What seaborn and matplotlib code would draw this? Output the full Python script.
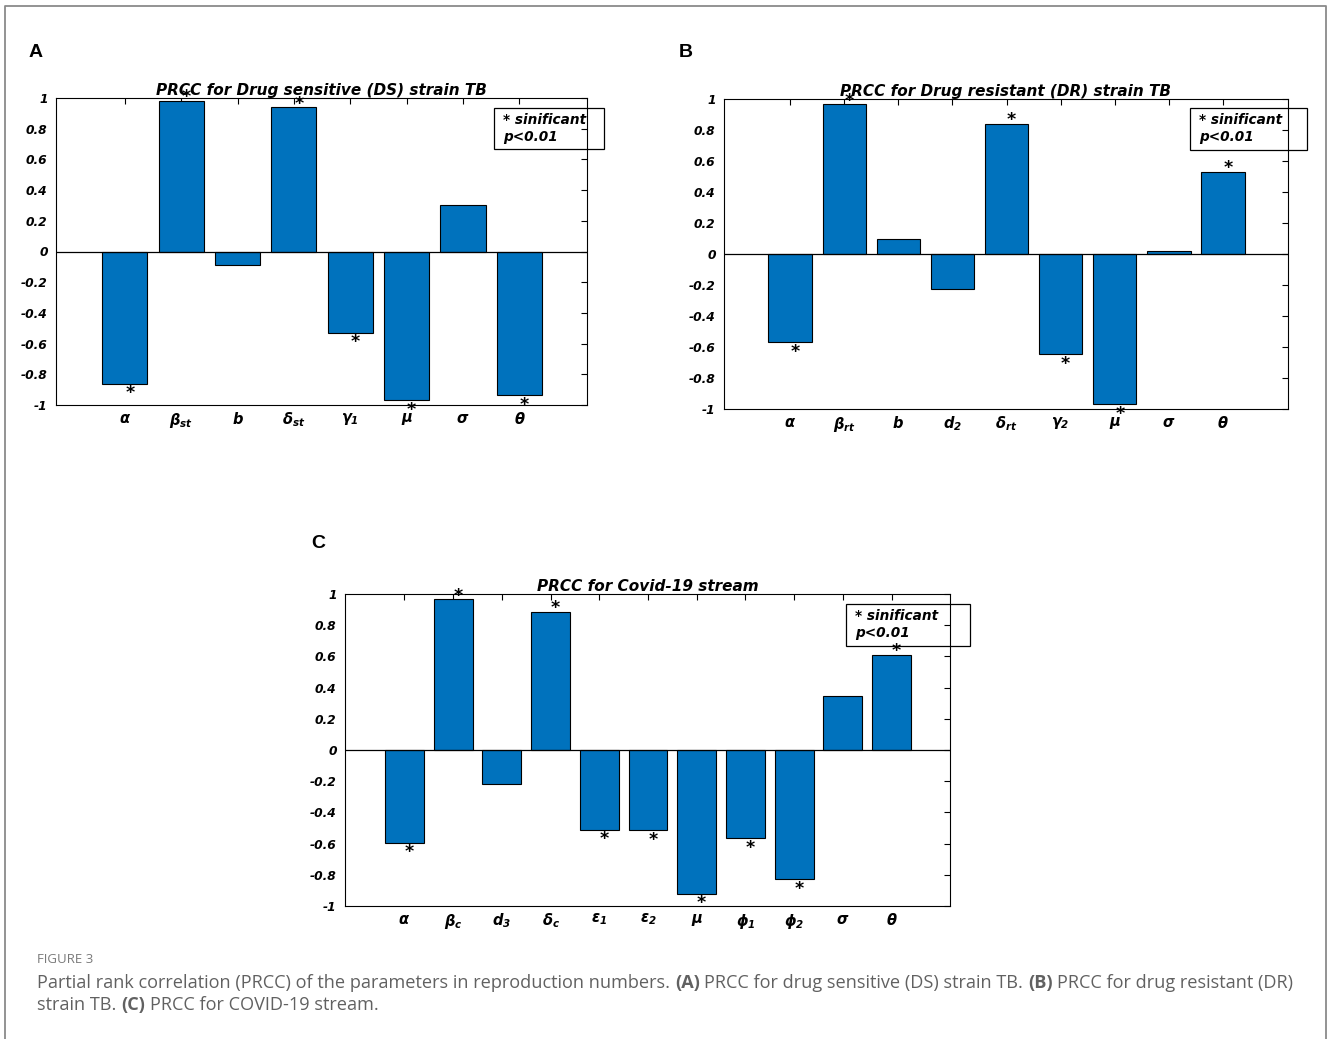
import matplotlib
matplotlib.use("Agg")
import matplotlib.pyplot as plt
from matplotlib.patches import Rectangle
from matplotlib.lines import Line2D
from matplotlib.ticker import FixedLocator, FuncFormatter
import seaborn as sns

# ---------------- data ----------------
ds_params = [r"$\alpha$", r"$\beta_{st}$", r"$b$", r"$\delta_{st}$", r"$\gamma_1$",
             r"$\mu$", r"$\sigma$", r"$\theta$"]
ds_prcc = [-0.86, 0.98, -0.09, 0.94, -0.53, -0.97, 0.30, -0.935]
ds_sig = [True, True, False, True, True, True, False, True]

dr_params = [r"$\alpha$", r"$\beta_{rt}$", r"$b$", r"$d_2$", r"$\delta_{rt}$", r"$\gamma_2$",
             r"$\mu$", r"$\sigma$", r"$\theta$"]
dr_prcc = [-0.57, 0.965, 0.10, -0.225, 0.84, -0.645, -0.97, 0.02, 0.53]
dr_sig = [True, True, False, False, True, True, True, False, True]

cv_params = [r"$\alpha$", r"$\beta_c$", r"$d_3$", r"$\delta_c$", r"$\epsilon_1$", r"$\epsilon_2$",
             r"$\mu$", r"$\phi_1$", r"$\phi_2$", r"$\sigma$", r"$\theta$"]
cv_prcc = [-0.595, 0.965, -0.22, 0.885, -0.51, -0.515, -0.92, -0.565, -0.83, 0.345, 0.61]
cv_sig = [True, True, False, True, True, True, True, True, True, False, True]

titles = ["PRCC for Drug sensitive (DS) strain TB",
          "PRCC for Drug resistant (DR) strain TB",
          "PRCC for Covid-19 stream"]
panel_letters = ["A", "B", "C"]
y_ticks = [-1, -0.8, -0.6, -0.4, -0.2, 0, 0.2, 0.4, 0.6, 0.8, 1]
legend_lines = ["* sinificant", "p<0.01"]

caption_head = "FIGURE 3"
caption_line1 = [("Partial rank correlation (PRCC) of the parameters in reproduction numbers.", "normal"),
                 ("(A)", "bold"), ("PRCC for drug sensitive (DS) strain TB.", "normal"),
                 ("(B)", "bold"), ("PRCC for drug resistant (DR)", "normal")]
caption_line2 = [("strain TB.", "normal"), ("(C)", "bold"), ("PRCC for COVID-19 stream.", "normal")]

# ---------------- style ----------------
sns.set_style("white")
plt.rcParams["font.family"] = ["DejaVu Sans"]
plt.rcParams["text.color"] = "black"
plt.rcParams["axes.labelcolor"] = "black"
plt.rcParams["xtick.color"] = "black"
plt.rcParams["ytick.color"] = "black"
plt.rcParams["axes.unicode_minus"] = False
plt.rcParams["mathtext.fontset"] = "custom"
plt.rcParams["mathtext.it"] = "DejaVu Sans:bold:italic"
plt.rcParams["mathtext.rm"] = "DejaVu Sans:bold:italic"
plt.rcParams["mathtext.bf"] = "DejaVu Sans:bold:italic"

W, H = 1328, 1039
fig = plt.figure(figsize=(W / 100, H / 100), dpi=100)
fig.patch.set_facecolor("white")

BAR = "#0072BD"
CAP_FONT = ["Open Sans", "DejaVu Sans"]


def px_rect(l, t, r, b):
    return [l / W, 1 - b / H, (r - l) / W, (b - t) / H]


def fx(x):
    return x / W


def fy(y):
    return 1 - y / H


def prcc_panel(rect, params, vals, sig, title):
    ax = fig.add_axes(px_rect(*rect))
    sns.barplot(x=params, y=vals, color=BAR, saturation=1, edgecolor="black",
                linewidth=0.8, width=0.8, ax=ax, zorder=2)
    n = len(params)
    ax.set_xlim(-1.22, n + 0.2)
    ax.set_ylim(-1, 1)
    ax.axhline(0, color="black", lw=0.9, zorder=3)
    ax.yaxis.set_major_locator(FixedLocator(y_ticks))
    ax.yaxis.set_major_formatter(FuncFormatter(lambda v, p: f"{v:g}"))
    ax.tick_params(direction="in", top=True, right=True, length=4, width=0.8,
                   colors="black", labelsize=8.8, pad=6)
    ax.tick_params(axis="x", labelsize=10.5, pad=4)
    for lab in ax.get_yticklabels():
        lab.set_fontweight("bold")
        lab.set_fontstyle("italic")
    for s in ax.spines.values():
        s.set_visible(True)
        s.set_color("black")
        s.set_linewidth(0.8)
    ax.set_xlabel("")
    ax.set_ylabel("")
    ax.set_title(title, fontsize=11, fontweight="bold", fontstyle="italic", pad=2,
                 color="black")
    for i, (v, s) in enumerate(zip(vals, sig)):
        if not s:
            continue
        dy = -1 if v > 0 else -10.5
        ax.annotate("*", (i, v), xytext=(3.6, dy), textcoords="offset points",
                    ha="center", va="baseline", fontsize=12.5, fontweight="bold",
                    color="black", annotation_clip=False, zorder=4)
    return ax


prcc_panel((56, 98, 587, 405), ds_params, ds_prcc, ds_sig, titles[0])
prcc_panel((724, 99, 1288, 409), dr_params, dr_prcc, dr_sig, titles[1])
prcc_panel((345, 594, 950, 906), cv_params, cv_prcc, cv_sig, titles[2])

# significance boxes
boxes = [(494, 108, 604, 149), (1190, 108, 1307, 150), (846, 604, 970, 646)]
for (l, t, r, b) in boxes:
    fig.add_artist(Rectangle((fx(l), fy(b)), (r - l) / W, (b - t) / H,
                             transform=fig.transFigure, fill=False,
                             edgecolor="black", lw=0.9, zorder=5))
    fig.text(fx(l + 9), fy(t + 12), legend_lines[0], fontsize=9.8, fontweight="bold",
             fontstyle="italic", va="center", ha="left", zorder=6)
    fig.text(fx(l + 9), fy(t + 29), legend_lines[1], fontsize=9.8, fontweight="bold",
             fontstyle="italic", va="center", ha="left", zorder=6)

# panel letters
for letter, (x, y) in zip(panel_letters, [(29, 57), (679, 57), (311, 548)]):
    fig.text(fx(x), fy(y), letter, fontsize=14, fontweight="bold", va="baseline",
             ha="left", color="black", family=["Liberation Sans", "DejaVu Sans"])

# caption
renderer = fig.canvas.get_renderer()
CAP = "#616161"
fig.text(fx(37), fy(963), caption_head, fontsize=9.5, color="#7a7a7a",
         family=CAP_FONT, va="baseline", ha="left")


def draw_runs(x0, y0, runs, size):
    probe_a = fig.text(0, 0, "aa", fontsize=size, family=CAP_FONT)
    probe_b = fig.text(0, 0, "a a", fontsize=size, family=CAP_FONT)
    space = probe_b.get_window_extent(renderer).width - probe_a.get_window_extent(renderer).width
    probe_a.remove()
    probe_b.remove()
    x = x0
    for txt, weight in runs:
        t = fig.text(fx(x), fy(y0), txt, fontsize=size, fontweight=weight, color=CAP,
                     family=CAP_FONT, va="baseline", ha="left")
        x += t.get_window_extent(renderer).width + space


draw_runs(37, 988, caption_line1, 13.07)
draw_runs(37, 1010, caption_line2, 13.07)

# outer frame (open at the bottom)
frame_col = "#8a8a8a"
fig.add_artist(Line2D([fx(5), fx(5), fx(1326), fx(1326)], [0, fy(6), fy(6), 0],
                      transform=fig.transFigure, color=frame_col, lw=1.3))

fig.savefig("out.png", dpi=100, facecolor="white")
